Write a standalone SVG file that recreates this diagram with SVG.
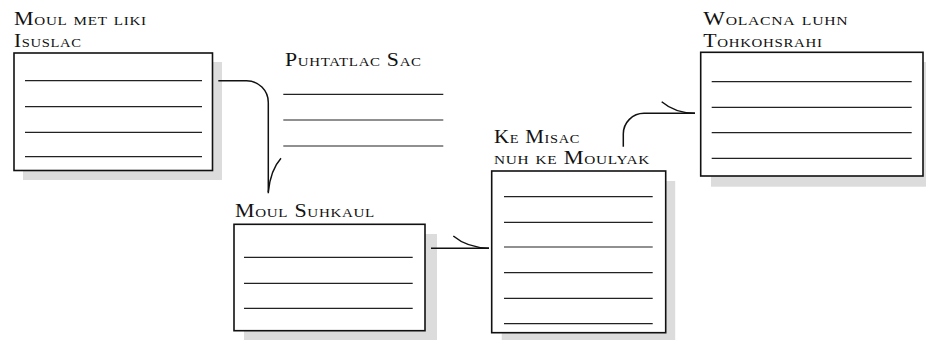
<svg xmlns="http://www.w3.org/2000/svg" width="926" height="340" viewBox="0 0 926 340">
<style>
.lbl{font-family:"Liberation Serif","DejaVu Serif",serif;font-size:19px;font-variant:small-caps;fill:#111;letter-spacing:0.6px}
.box{fill:#fff;stroke:#111;stroke-width:1.6}
.shadow{fill:#dcdcdc}
.ln{stroke:#222;stroke-width:1.2}
.conn{fill:none;stroke:#111;stroke-width:1.5}
</style>
<rect width="926" height="340" fill="#fff"/>
<g id="node-moul-met-liki">
<rect class="shadow" x="23" y="62" width="199" height="118"/>
<rect class="box" x="14" y="53" width="198.5" height="117.5"/>
<line class="ln" x1="25" y1="80.7" x2="202" y2="80.7"/>
<line class="ln" x1="25" y1="106.7" x2="202" y2="106.7"/>
<line class="ln" x1="25" y1="132.3" x2="202" y2="132.3"/>
<line class="ln" x1="25" y1="156.7" x2="202" y2="156.7"/>
<text class="lbl" x="14" y="25" textLength="132.7" lengthAdjust="spacingAndGlyphs">Moul met liki</text>
<text class="lbl" x="14" y="46.7" textLength="67.7" lengthAdjust="spacingAndGlyphs">Isuslac</text>
</g>
<g id="node-puhtatlac-sac">
<text class="lbl" x="285" y="66" textLength="136.7" lengthAdjust="spacingAndGlyphs">Puhtatlac Sac</text>
<line class="ln" x1="283.3" y1="94.3" x2="443.3" y2="94.3"/>
<line class="ln" x1="283.3" y1="120" x2="443.3" y2="120"/>
<line class="ln" x1="283.3" y1="146" x2="443.3" y2="146"/>
</g>
<g id="node-moul-suhkaul">
<rect class="shadow" x="244" y="234" width="193" height="106"/>
<rect class="box" x="234" y="224.3" width="191" height="106.4"/>
<line class="ln" x1="244" y1="257.3" x2="412.7" y2="257.3"/>
<line class="ln" x1="244" y1="283.3" x2="412.7" y2="283.3"/>
<line class="ln" x1="244" y1="308.3" x2="412.7" y2="308.3"/>
<text class="lbl" x="235" y="216.7" textLength="140" lengthAdjust="spacingAndGlyphs">Moul Suhkaul</text>
</g>
<g id="node-ke-misac">
<rect class="shadow" x="501.7" y="181" width="173.5" height="159"/>
<rect class="box" x="491.7" y="171" width="174" height="161.7"/>
<line class="ln" x1="504" y1="196.7" x2="652.7" y2="196.7"/>
<line class="ln" x1="504" y1="222.3" x2="652.7" y2="222.3"/>
<line class="ln" x1="504" y1="247" x2="652.7" y2="247"/>
<line class="ln" x1="504" y1="272.7" x2="652.7" y2="272.7"/>
<line class="ln" x1="504" y1="298.3" x2="652.7" y2="298.3"/>
<line class="ln" x1="504" y1="323.7" x2="652.7" y2="323.7"/>
<text class="lbl" x="494" y="142.7" textLength="86" lengthAdjust="spacingAndGlyphs">Ke Misac</text>
<text class="lbl" x="494" y="164.3" textLength="156" lengthAdjust="spacingAndGlyphs">nuh ke Moulyak</text>
</g>
<g id="node-wolacna-luhn">
<rect class="shadow" x="711" y="62" width="222" height="124.7"/>
<rect class="box" x="700.7" y="52.3" width="222.3" height="123.7"/>
<line class="ln" x1="711.7" y1="81.7" x2="911.7" y2="81.7"/>
<line class="ln" x1="711.7" y1="107.3" x2="911.7" y2="107.3"/>
<line class="ln" x1="711.7" y1="132.7" x2="911.7" y2="132.7"/>
<line class="ln" x1="711.7" y1="158.3" x2="911.7" y2="158.3"/>
<text class="lbl" x="703.3" y="25" textLength="145" lengthAdjust="spacingAndGlyphs">Wolacna luhn</text>
<text class="lbl" x="703.3" y="46.7" textLength="119.3" lengthAdjust="spacingAndGlyphs">Tohkohsrahi</text>
</g>
<g id="connectors">
<path class="conn" d="M218.3,80.7 H246.5 A21.8,21.8 0 0 1 268.3,102.5 V193.3"/>
<path class="conn" d="M268.3,192 Q270.5,170 281,158.3"/>
<path class="conn" d="M431,248.3 H489"/>
<path class="conn" d="M489,248.3 Q467,247.5 453.3,236"/>
<path class="conn" d="M623.3,146.7 V134 A20.7,20.7 0 0 1 644,113.3 H695"/>
<path class="conn" d="M695,113.3 Q675,113 661.7,101.7"/>
</g>
</svg>
